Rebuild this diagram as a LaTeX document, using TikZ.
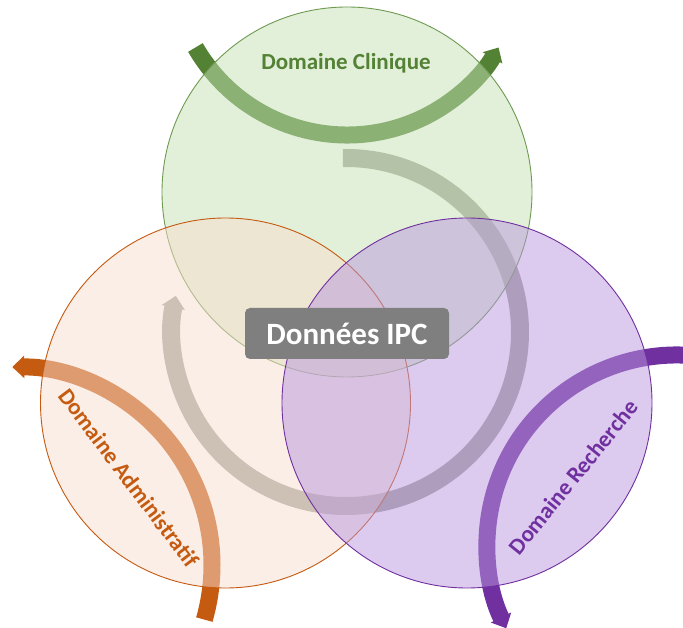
\documentclass[tikz,border=0pt]{standalone}
\usepackage{fontspec}
\setmainfont{Carlito}
\usetikzlibrary{arrows.meta,calc}
\definecolor{gdark}{HTML}{548235}
\definecolor{gfill}{HTML}{C5E0B4}
\definecolor{gline}{HTML}{6E9A52}
\definecolor{odark}{HTML}{C55A11}
\definecolor{ofill}{HTML}{F7DDCD}
\definecolor{pdark}{HTML}{7030A0}
\definecolor{pfill}{HTML}{B997DD}
\definecolor{bandgray}{HTML}{A3A49C}
\definecolor{boxgray}{HTML}{7F7F7F}
\tikzset{
  band/.style={line width=17pt},
  tipA/.style={-{Triangle[length=12pt,width=22pt]}},
  venn/.style={circle, minimum size=370pt, inner sep=0pt, line width=0.9pt, fill opacity=0.5, draw opacity=1},
  dlabel/.style={font=\bfseries\fontsize{23}{27}\selectfont, inner sep=0pt},
}
\begin{document}
\begin{tikzpicture}[x=1pt,y=-1pt]
\useasboundingbox (0,0) rectangle (683,628);
\clip (0,0) rectangle (683,628);
% arc centres
\coordinate (cg) at (347,-40);
\coordinate (co) at (14,565);
\coordinate (cp) at (677,545);
\coordinate (cc) at (346,332);
% coloured bands
\draw[band, gdark, tipA] ($(cg)+(150:175)$) arc[start angle=150, end angle=30, radius=175];
\draw[band, odark, tipA] ($(co)+(16:198)$) arc[start angle=16, end angle=-90.5, radius=198];
\draw[band, pdark, tipA] ($(cp)+(-78:190)$) arc[start angle=-78, end angle=-206, radius=190];
% central grey circular arrow
\draw[line width=18pt, bandgray, -{Triangle[length=12pt,width=23pt]}] ($(cc)+(-91:174)$) arc[start angle=-91, end angle=192, radius=174];
% circles
\node[venn, draw=gline, fill=gfill] (G) at (347,192) {};
\node[venn, draw=odark, fill=ofill] (O) at (225.5,403) {};
\node[venn, draw=pdark, fill=pfill] (P) at (467,403) {};
% labels
\node[dlabel, text=gdark] (tg) at (346,63) {Domaine Clinique};
\node[dlabel, text=odark, rotate=-53] (to) at (129,478) {Domaine Administratif};
\node[dlabel, text=pdark, rotate=51] (tp) at (573,477) {Domaine Recherche};
\node[rounded corners=5pt, fill=boxgray, minimum width=204pt, minimum height=51pt, text=white, font=\bfseries\fontsize{31}{36}\selectfont] (ipc) at (347,333.5) {Données IPC};
\end{tikzpicture}
\end{document}
